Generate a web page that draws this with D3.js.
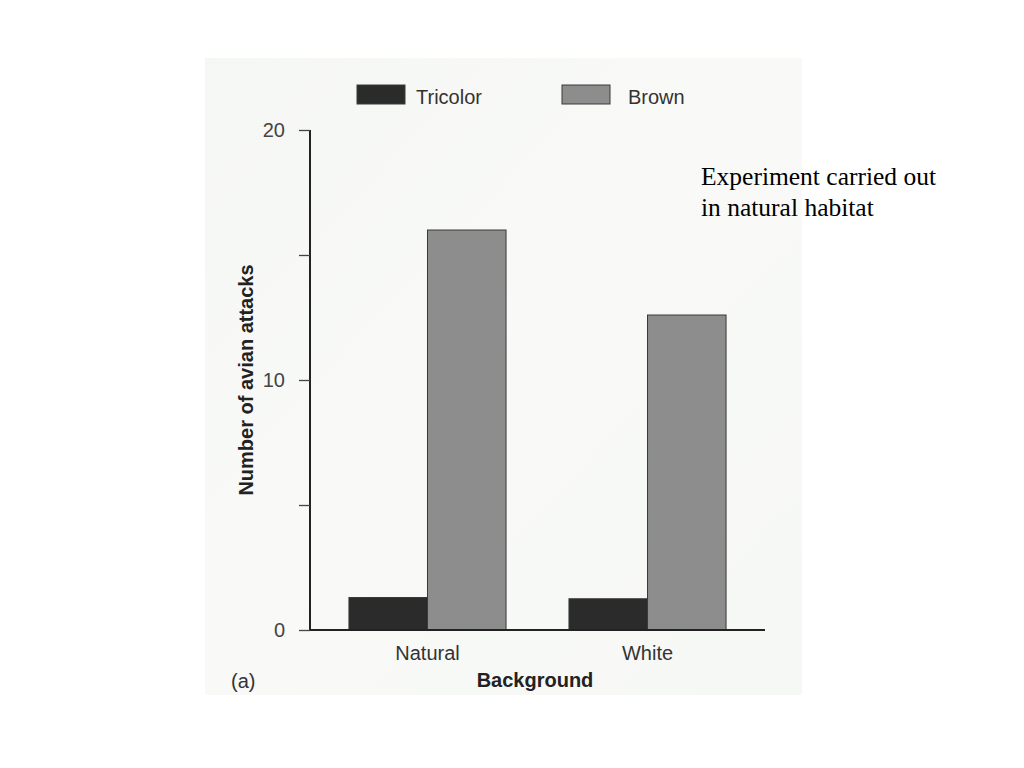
<!DOCTYPE html>
<html>
<head>
<meta charset="utf-8">
<script src="https://cdn.jsdelivr.net/npm/d3@7"></script>
<style>
  html, body { margin: 0; padding: 0; background: #ffffff; }
  svg { display: block; }
</style>
</head>
<body>
<svg id="chart" width="1024" height="768"></svg>
<script>
// ---- data ----
const categories = ["Natural", "White"];
const seriesNames = ["Tricolor", "Brown"];
const tricolorValues = [1.3, 1.25];
const brownValues = [16, 12.6];
const yTickValues = [0, 5, 10, 15, 20];
const yTickLabels = ["0", "", "10", "", "20"];
const seriesColors = ["#2b2b2b", "#8d8d8d"];

const svg = d3.select("#chart");
const sans = "'Liberation Sans', Arial, Helvetica, sans-serif";

// faint scanned page background
const bgGrad = svg.append("defs").append("linearGradient")
  .attr("id", "bg").attr("x1", "0").attr("y1", "0").attr("x2", "1").attr("y2", "1");
bgGrad.append("stop").attr("offset", "0").attr("stop-color", "#f5f7f4");
bgGrad.append("stop").attr("offset", "0.45").attr("stop-color", "#f9faf8");
bgGrad.append("stop").attr("offset", "1").attr("stop-color", "#f6f8f5");
svg.append("rect").attr("x", 205).attr("y", 58).attr("width", 597).attr("height", 637)
  .attr("fill", "url(#bg)");

const x0 = 310, x1 = 765, yTop = 130, yBot = 630;

const x = d3.scaleBand().domain(categories).range([x0, x1])
  .paddingInner(0.286).paddingOuter(0.177);
const xs = d3.scaleBand().domain(seriesNames).range([0, x.bandwidth()]).padding(0);
const y = d3.scaleLinear().domain([0, 20]).range([yBot, yTop]);

const rows = categories.map((c, i) => ({
  cat: c,
  vals: [
    { s: seriesNames[0], v: tricolorValues[i], color: seriesColors[0] },
    { s: seriesNames[1], v: brownValues[i], color: seriesColors[1] }
  ]
}));

// bars
const g = svg.append("g");
g.selectAll("g.cat").data(rows).join("g")
  .attr("class", "cat")
  .attr("transform", d => `translate(${x(d.cat)},0)`)
  .selectAll("rect").data(d => d.vals).join("rect")
  .attr("x", d => xs(d.s))
  .attr("y", d => y(d.v))
  .attr("width", xs.bandwidth())
  .attr("height", d => y(0) - y(d.v))
  .attr("fill", d => d.color)
  .attr("stroke", "#3a3a3a")
  .attr("stroke-width", 1);

// y axis
const yAxis = d3.axisLeft(y).tickValues(yTickValues)
  .tickFormat((d, i) => yTickLabels[i]).tickSize(11).tickPadding(14);
const ya = svg.append("g").attr("transform", `translate(${x0},0)`).call(yAxis);
ya.select(".domain").attr("stroke", "#222").attr("stroke-width", 2)
  .attr("d", `M0,${yTop}V${yBot}`);
ya.selectAll(".tick line").attr("stroke", "#444").attr("stroke-width", 1.3);
ya.selectAll(".tick text").attr("font-family", sans).attr("font-size", 20)
  .attr("fill", "#444");

// x axis
const xa = svg.append("g").attr("transform", `translate(0,${yBot})`)
  .call(d3.axisBottom(x).tickSize(0).tickPadding(16));
xa.select(".domain").attr("stroke", "#222").attr("stroke-width", 2)
  .attr("d", `M${x0},0H${x1}`);
xa.selectAll(".tick text").attr("font-family", sans).attr("font-size", 20)
  .attr("fill", "#333");

// axis titles
svg.append("text").attr("x", 535).attr("y", 687).attr("text-anchor", "middle")
  .attr("font-family", sans).attr("font-size", 20).attr("font-weight", "bold")
  .attr("fill", "#222").text("Background");
svg.append("text").attr("transform", `translate(253,380) rotate(-90)`)
  .attr("text-anchor", "middle")
  .attr("font-family", sans).attr("font-size", 20).attr("font-weight", "bold")
  .attr("fill", "#222").text("Number of avian attacks");
svg.append("text").attr("x", 231).attr("y", 688)
  .attr("font-family", sans).attr("font-size", 20).attr("fill", "#333").text("(a)");

// legend
const legendX = [357, 562];
const lg = svg.append("g").selectAll("g").data(seriesNames).join("g")
  .attr("transform", (d, i) => `translate(${legendX[i]},85)`);
lg.append("rect").attr("width", 48).attr("height", 19)
  .attr("fill", (d, i) => seriesColors[i]).attr("stroke", "#3a3a3a").attr("stroke-width", 1);
lg.append("text").attr("x", (d, i) => i === 0 ? 59 : 66).attr("y", 19)
  .attr("font-family", sans).attr("font-size", 20).attr("fill", "#333").text(d => d);

// annotation
const note = svg.append("text").attr("font-family", "'Liberation Serif', 'Times New Roman', serif")
  .attr("font-size", 25.5).attr("fill", "#000");
note.append("tspan").attr("x", 701).attr("y", 185).text("Experiment carried out");
note.append("tspan").attr("x", 701).attr("y", 216).text("in natural habitat");
</script>
</body>
</html>
